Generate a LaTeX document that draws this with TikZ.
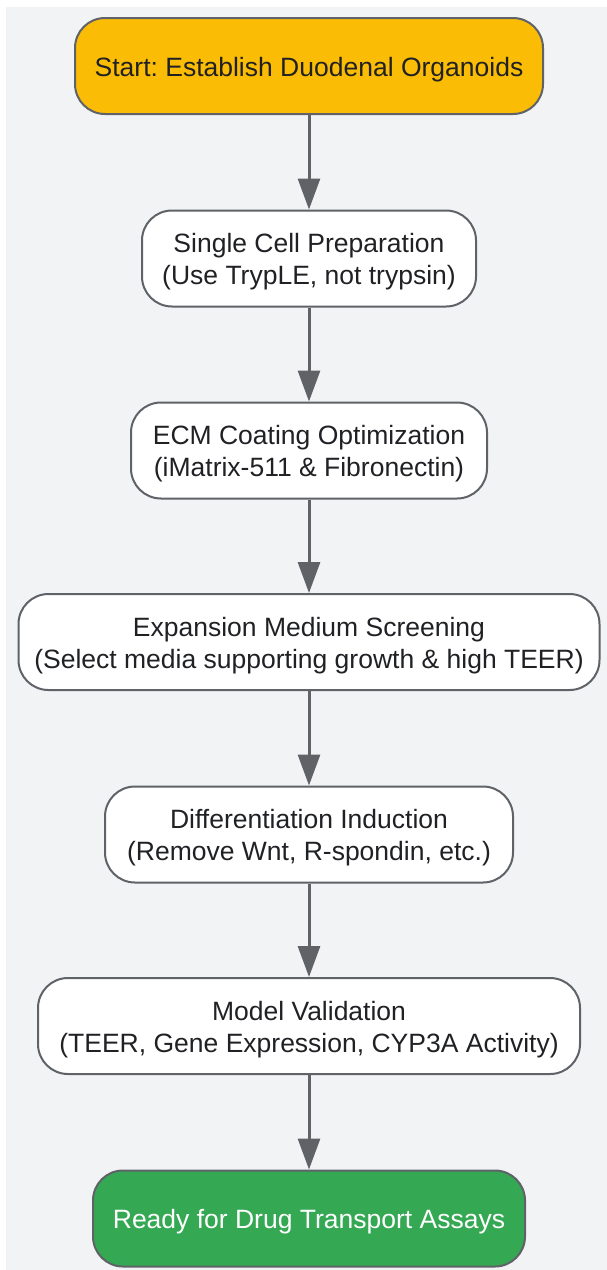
\documentclass[tikz,border=0pt]{standalone}
\usepackage{fontspec}
\setmainfont{Liberation Sans}
\usetikzlibrary{arrows.meta}
\frenchspacing
\definecolor{bggray}{HTML}{F1F3F4}
\definecolor{edgegray}{HTML}{5F6368}
\definecolor{amber}{HTML}{FBBC05}
\definecolor{gGreen}{HTML}{34A853}
\definecolor{txtdark}{HTML}{202124}
\tikzset{
  box/.style={draw=edgegray, line width=2pt, rounded corners=30pt, fill=white,
    minimum height=96pt, inner sep=0pt},
  boxtext/.style={inner sep=0pt, align=center, text=txtdark, yshift=-3.5pt,
    font=\fontsize{26.5pt}{32pt}\selectfont},
  starttext/.style={boxtext},
  endtext/.style={boxtext, text=white},
  startbox/.style={box, fill=amber},
  endbox/.style={box, fill=gGreen},
  flow/.style={draw=edgegray, line width=3pt,
    -{Triangle[length=31pt 0,width=22pt 0]}}
}
\begin{document}
\begin{tikzpicture}[x=1pt,y=-1pt]
\useasboundingbox (0,0) rectangle (607,1270);
\fill[bggray] (6,7) rectangle (607,1270);
\node[startbox, minimum width=468pt, label={[starttext]center:Start: Establish Duodenal Organoids}] (n1) at (309,66) {};
\node[box, minimum width=334pt, label={[boxtext]center:{Single Cell Preparation\\(Use TrypLE, not trypsin)}}] (n2) at (309,258.5) {};
\node[box, minimum width=356pt, label={[boxtext]center:{ECM Coating Optimization\\(iMatrix-511 \& Fibronectin)}}] (n3) at (309,450.5) {};
\node[box, minimum width=581pt, label={[boxtext]center:{Expansion Medium Screening\\(Select media supporting growth \& high TEER)}}] (n4) at (309,642) {};
\node[box, minimum width=408pt, label={[boxtext]center:{Differentiation Induction\\(Remove Wnt, R-spondin, etc.)}}] (n5) at (309,834.5) {};
\node[box, minimum width=542pt, label={[boxtext]center:{Model Validation\\(TEER, Gene Expression, CYP3A Activity)}}] (n6) at (309,1026) {};
\node[endbox, minimum width=432pt, label={[endtext]center:Ready for Drug Transport Assays}] (n7) at (309,1218.5) {};
\draw[flow] (n1) -- (n2);
\draw[flow] (n2) -- (n3);
\draw[flow] (n3) -- (n4);
\draw[flow] (n4) -- (n5);
\draw[flow] (n5) -- (n6);
\draw[flow] (n6) -- (n7);
\end{tikzpicture}
\end{document}
